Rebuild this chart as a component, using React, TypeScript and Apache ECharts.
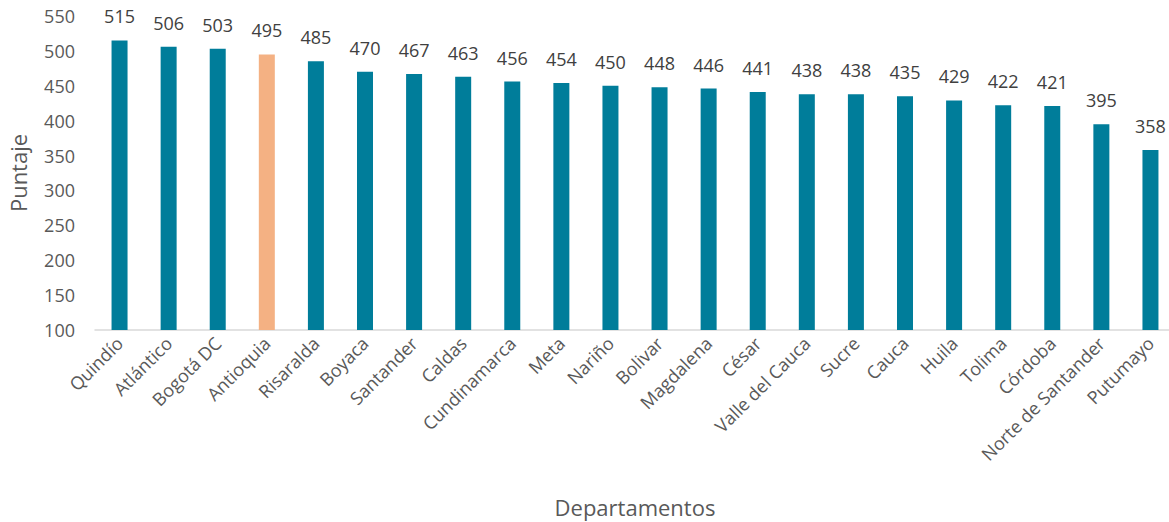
import React, { useEffect, useRef } from "react";
import * as echarts from "echarts";

const categories = [
  "Quindío", "Atlántico", "Bogotá DC", "Antioquia", "Risaralda", "Boyaca", "Santander",
  "Caldas", "Cundinamarca", "Meta", "Nariño", "Bolivar", "Magdalena", "César",
  "Valle del Cauca", "Sucre", "Cauca", "Huila", "Tolima", "Córdoba", "Norte de Santander", "Putumayo",
];
const values = [515, 506, 503, 495, 485, 470, 467, 463, 456, 454, 450, 448, 446, 441, 438, 438, 435, 429, 422, 421, 395, 358];
const highlight = "Antioquia";

const FONT = "'Open Sans', 'Noto Sans', sans-serif";

export default function App() {
  const ref = useRef<HTMLDivElement>(null);
  useEffect(() => {
    document.body.style.margin = "0";
    const chart = echarts.init(ref.current!, null, { renderer: "svg" });
    chart.setOption({
      animation: false,
      backgroundColor: "#ffffff",
      grid: { left: 95, top: 16, width: 1080, bottom: 192, outerBoundsMode: "none", containLabel: false },
      xAxis: {
        type: "category",
        data: categories,
        name: "Departamentos",
        nameLocation: "middle",
        nameGap: 166,
        nameTextStyle: { fontFamily: FONT, fontSize: 22, color: "#595959" },
        axisLine: { lineStyle: { color: "#D9D9D9", width: 1.5 } },
        axisTick: { show: false },
        axisLabel: {
          rotate: 45,
          interval: 0,
          margin: 10,
          fontFamily: FONT,
          fontSize: 18,
          color: "#595959",
        },
      },
      yAxis: {
        type: "value",
        min: 100,
        max: 550,
        interval: 50,
        name: "Puntaje",
        nameLocation: "middle",
        nameGap: 66,
        nameTextStyle: { fontFamily: FONT, fontSize: 22, color: "#595959" },
        axisLine: { show: false },
        axisTick: { show: false },
        splitLine: { show: false },
        axisLabel: { margin: 20, fontFamily: FONT, fontSize: 18, color: "#595959" },
      },
      series: [
        {
          type: "bar",
          barWidth: 16,
          data: values.map((v, i) => ({
            value: v,
            itemStyle: { color: categories[i] === highlight ? "#F4B183" : "#007D9A" },
          })),
          label: {
            show: true,
            position: "top",
            distance: 15,
            fontFamily: FONT,
            fontSize: 18,
            color: "#404040",
          },
        },
      ],
    });
    return () => chart.dispose();
  }, []);
  return <div ref={ref} style={{ width: 1169, height: 522 }} />;
}
